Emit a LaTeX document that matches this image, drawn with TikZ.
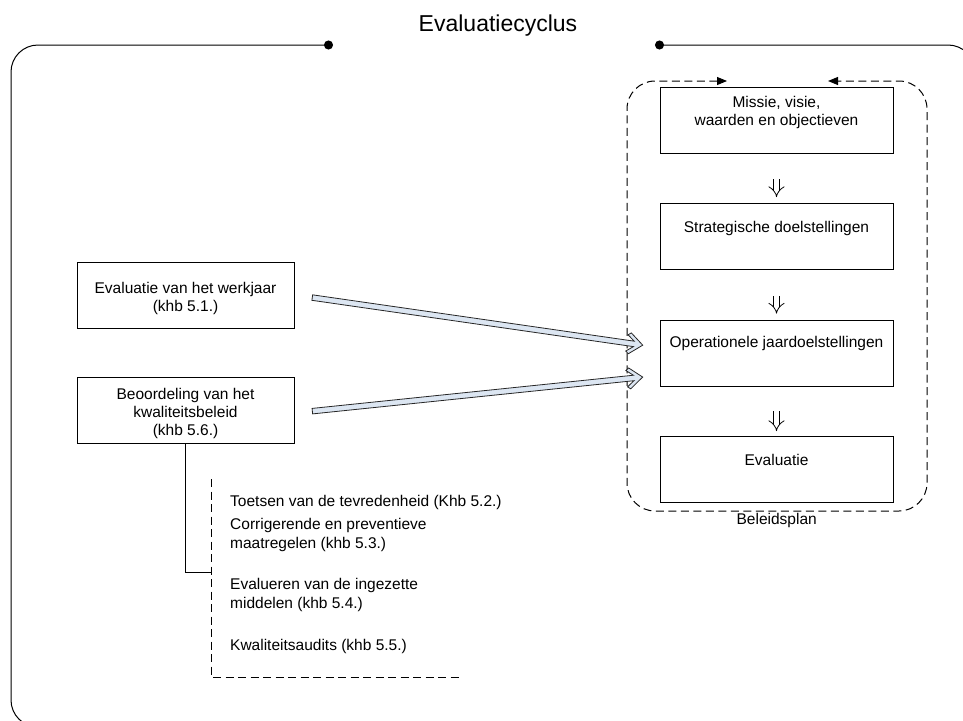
\documentclass[tikz,border=0pt]{standalone}
\usepackage{fontspec}
\setmainfont{Liberation Sans}
\usetikzlibrary{arrows.meta,calc}
\definecolor{arrfill}{HTML}{DCE6F2}
\newcommand\bxfont{\fontsize{15.5}{18}\selectfont}
% block arrow with chevron head: #1 tail, #2 tip
\newcommand\blockarrow[2]{%
  \filldraw[blkfill] (#2)
    -- ($(#2)!13pt!(#1)!10.5pt!90:(#1)$)
    -- ($(#2)!16pt!(#1)!8.2pt!90:(#1)$)
    -- ($(#2)!9pt!(#1)!2.75pt!90:(#1)$)
    -- ($(#1)!2.75pt!-90:(#2)$)
    -- ($(#1)!2.75pt!90:(#2)$)
    -- ($(#2)!9pt!(#1)!2.75pt!-90:(#1)$)
    -- ($(#2)!16pt!(#1)!8.2pt!-90:(#1)$)
    -- ($(#2)!13pt!(#1)!10.5pt!-90:(#1)$)
    -- cycle;}
\begin{document}
\begin{tikzpicture}[x=1pt,y=-1pt,
  box/.style={draw, line width=0.9pt, minimum width=217pt, minimum height=66pt, inner sep=0pt},
  rbox/.style={draw, line width=0.9pt, minimum width=233pt, minimum height=66pt, inner sep=0pt},
  txt/.style={font=\bxfont, align=center, inner sep=0pt},
  ltxt/.style={font=\fontsize{15.5}{19.5}\selectfont, align=left, anchor=west, inner sep=0pt},
  dsh/.style={dash pattern=on 8pt off 4.5pt, line width=1pt},
  flow/.style={double, double distance=5pt, line width=0.8pt, -{Implies[length=6pt,width=13pt]}},
  blkfill/.style={fill=arrfill, draw=black!85, line width=0.8pt, line join=miter},
]
\useasboundingbox (0,0) rectangle (963,720);
\clip (0,0) rectangle (963,720);
\fill[white] (0,0) rectangle (963,720);

% outer frame
\draw[line width=1pt, rounded corners=27pt, {Circle[length=9pt]}-{Circle[length=9pt]}]
  (655,45) -- (975,45) -- (975,727) -- (11,727) -- (11,45) -- (333,45);
\node[inner sep=0pt, font=\fontsize{23}{27}\selectfont] (title) at (498,26) {Evaluatiecyclus};

% Beleidsplan frame
\draw[dsh, rounded corners=28pt, {Triangle[length=10pt,width=8pt]}-{Triangle[length=10pt,width=8pt]}]
  (727,81) -- (627,81) -- (627,511) -- (927,511) -- (927,81) -- (828,81);
\node[txt] (bp) at (776.7,520.3) {Beleidsplan};

% right boxes
\node[rbox] (b1) at (776.5,120) {};
\node[txt] (t1) at (776.5,112) {Missie, visie,\\waarden en objectieven};
\node[rbox] (b2) at (776.5,236.5) {};
\node[txt] (t2) at (776.5,228.3) {Strategische doelstellingen};
\node[rbox] (b3) at (776.5,353) {};
\node[txt] (t3) at (776.5,343.5) {Operationele jaardoelstellingen};
\node[rbox] (b4) at (776.5,469.5) {};
\node[txt] (t4) at (776.5,459.7) {Evaluatie};

\draw[flow] ([yshift=-26pt]b1.south) -- ([yshift=6pt]b2.north);
\draw[flow] ([yshift=-26pt]b2.south) -- ([yshift=6pt]b3.north);
\draw[flow] ([yshift=-25pt]b3.south) -- ([yshift=5pt]b4.north);

% left boxes
\node[box] (bA) at (185.5,295) {};
\node[txt] (tA) at (185.5,298) {Evaluatie van het werkjaar\\(khb 5.1.)};
\node[box] (bB) at (185.5,410.5) {};
\node[txt] (tB) at (185.5,413) {Beoordeling van het\\kwaliteitsbeleid\\(khb 5.6.)};

% block arrows
\coordinate (a1t) at ($(bA.east)!18pt!([yshift=5.4pt]b3.west)$);
\coordinate (a1h) at ($([yshift=5.4pt]b3.west)!17pt!(bA.east)$);
\coordinate (a2t) at ($([yshift=-2.5pt]bB.east)!18pt!([yshift=-22.3pt]b3.west)$);
\coordinate (a2h) at ($([yshift=-22.3pt]b3.west)!17pt!([yshift=-2.5pt]bB.east)$);
\blockarrow{a1t}{a1h}
\blockarrow{a2t}{a2h}

% bracket
\coordinate (jn) at (211,572);
\coordinate (dtop) at (211,479);
\coordinate (dcor) at (211,677);
\coordinate (dend) at (460,677);
\draw[line width=1pt] (bB.south) |- (jn);
\draw[dsh] (dtop) -- (dcor) -- (dend);

\node[ltxt] (l1) at (230,502) {Toetsen van de tevredenheid (Khb 5.2.)};
\node[ltxt] (l2) at (230,534.75) {Corrigerende en preventieve\\maatregelen (khb 5.3.)};
\node[ltxt] (l3) at (230,595) {Evalueren van de ingezette\\middelen (khb 5.4.)};
\node[ltxt] (l4) at (230,646) {Kwaliteitsaudits (khb 5.5.)};
\end{tikzpicture}
\end{document}
